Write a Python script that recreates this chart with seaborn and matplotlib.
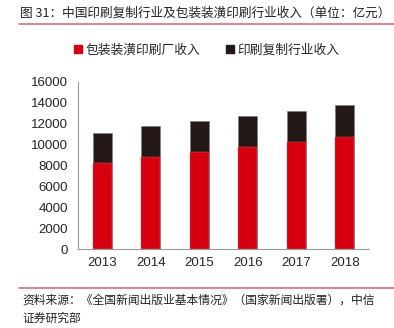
import matplotlib
matplotlib.use("Agg")
import matplotlib.pyplot as plt
import seaborn as sns
import pandas as pd
import numpy as np

years = ["2013", "2014", "2015", "2016", "2017", "2018"]
packaging = [8200, 8800, 9300, 9780, 10240, 10730]
print_copy = [2930, 3010, 3010, 2990, 2980, 3060]
yticks = [0, 2000, 4000, 6000, 8000, 10000, 12000, 14000, 16000]

title = "图 31：中国印刷复制行业及包装装潢印刷行业收入（单位：亿元）"
legend_labels = ["包装装潢印刷厂收入", "印刷复制行业收入"]
source = "资料来源：《全国新闻出版业基本情况》（国家新闻出版署），中信\n证券研究部"

sns.set_theme(style="white")
plt.rcParams['font.family'] = ['Noto Sans CJK SC', 'DejaVu Sans']

RED = "#d7000f"
BLACK = "#231815"

df = pd.DataFrame({"year": years, "pack": packaging,
                   "total": np.array(packaging) + np.array(print_copy)})

fig = plt.figure(figsize=(3.94, 3.28), dpi=100)
ax = fig.add_axes([78/394, 1-249/328, (369-78)/394, (249-82)/328])

sns.barplot(data=df, x="year", y="total", color=BLACK, width=0.4,
            saturation=1, ax=ax, edgecolor="#7a7a7a", linewidth=0.4)
sns.barplot(data=df, x="year", y="pack", color=RED, width=0.4,
            saturation=1, ax=ax, edgecolor="#e06060", linewidth=0.3)

ax.set_ylim(0, 16000)
ax.set_xlim(-0.5, 5.5)
ax.set_yticks(yticks)
ax.set_yticklabels([str(v) for v in yticks], family=['Liberation Sans'], fontsize=9.5)
ax.set_xticks(range(len(years)))
ax.set_xticklabels(years, family=['Liberation Sans'], fontsize=9.5)
ax.set_xlabel("")
ax.set_ylabel("")
ax.set_xticks(np.arange(-0.5, 6.0, 1.0), minor=True)
ax.tick_params(axis="x", which="major", length=0, pad=6)
ax.tick_params(axis="x", which="minor", length=4, color="#999999", direction="out", width=0.8)
ax.tick_params(axis="y", length=4, color="#999999", direction="out", width=0.8, pad=3)
for s in ["top", "right"]:
    ax.spines[s].set_visible(False)
for s in ["left", "bottom"]:
    ax.spines[s].set_color("#999999")
    ax.spines[s].set_linewidth(0.8)
ax.grid(False)

# title and rules
fig.text(20/394, 1-13/328, title, fontsize=9.1, color="#222222", va="center", ha="left")
fig.add_artist(plt.Line2D([19/394, 1.0], [1-24/328, 1-24/328], color="#e07070", lw=1.2))
fig.add_artist(plt.Line2D([19/394, 1.0], [1-288/328, 1-288/328], color="#e07070", lw=1.2))

# legend
handles = [plt.Rectangle((0, 0), 1, 1, color=RED), plt.Rectangle((0, 0), 1, 1, color=BLACK)]
fig.legend(handles, legend_labels, loc="center", bbox_to_anchor=(207/394, 1-50/328),
           ncol=2, frameon=False, fontsize=9.2, handlelength=0.6, handleheight=0.6,
           handletextpad=0.3, columnspacing=2.0)

fig.text(22/394, 1-309/328, source, fontsize=8.5, color="#222222", va="center", ha="left",
         linespacing=1.5)

fig.savefig("out.png", dpi=100)
